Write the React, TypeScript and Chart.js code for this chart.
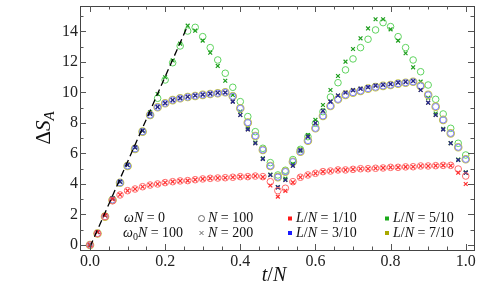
import React, { useEffect, useRef } from "react";
import { Chart, registerables } from "chart.js";
Chart.register(...registerables);

// ---------- data ----------
const tValues = [
  0, 0.02, 0.04, 0.06, 0.08, 0.1, 0.12, 0.14, 0.16, 0.18,
  0.2, 0.22, 0.24, 0.26, 0.28, 0.3, 0.32, 0.34, 0.36, 0.38,
  0.4, 0.42, 0.44, 0.46, 0.48, 0.5, 0.52, 0.54, 0.56, 0.58,
  0.6, 0.62, 0.64, 0.66, 0.68, 0.7, 0.72, 0.74, 0.76, 0.78,
  0.8, 0.82, 0.84, 0.86, 0.88, 0.9, 0.92, 0.94, 0.96, 0.98, 1.0,
];

// L/N = 1/10
const red100 = [
  0, 0.75, 1.86, 2.9, 3.28, 3.56, 3.67, 3.82, 3.93, 4.0,
  4.09, 4.15, 4.2, 4.22, 4.28, 4.33, 4.37, 4.39, 4.41, 4.44,
  4.48, 4.48, 4.52, 4.48, 4.15, 3.56, 3.72, 4.15, 4.44, 4.59,
  4.7, 4.81, 4.85, 4.92, 4.92, 4.96, 5.0, 5.0, 5.03, 5.05,
  5.09, 5.09, 5.12, 5.13, 5.18, 5.18, 5.2, 5.22, 5.22, 4.98, 4.52,
];
const red200 = [
  0, 0.85, 1.95, 3.0, 3.3, 3.56, 3.67, 3.82, 3.93, 4.0,
  4.09, 4.15, 4.2, 4.22, 4.28, 4.33, 4.37, 4.39, 4.41, 4.44,
  4.48, 4.48, 4.52, 4.45, 3.9, 3.17, 3.55, 4.1, 4.44, 4.59,
  4.7, 4.81, 4.85, 4.92, 4.92, 4.96, 5.0, 5.0, 5.03, 5.05,
  5.09, 5.09, 5.12, 5.13, 5.18, 5.18, 5.2, 5.22, 5.2, 4.74, 4.0,
];
// L/N = 3/10
const blue100 = [
  0, 0.75, 1.86, 2.95, 4.08, 5.18, 6.3, 7.43, 8.52, 9.03,
  9.29, 9.5, 9.62, 9.7, 9.77, 9.84, 9.9, 9.95, 10.01, 9.75,
  8.96, 8.02, 7.15, 6.23, 5.18, 4.45, 4.81, 5.46, 6.12, 6.84,
  7.65, 8.46, 9.11, 9.55, 9.84, 9.99, 10.1, 10.25, 10.35, 10.43,
  10.49, 10.58, 10.64, 10.7, 10.43, 9.84, 9.07, 8.2, 7.32, 6.41, 5.62,
];
const blue200 = [
  0, 0.85, 1.95, 3.05, 4.15, 5.25, 6.4, 7.5, 8.6, 9.05,
  9.3, 9.5, 9.63, 9.72, 9.8, 9.86, 9.92, 9.98, 10.0, 9.4,
  8.52, 7.58, 6.67, 5.64, 4.59, 3.78, 4.26, 5.2, 6.2, 7.1,
  8.0, 8.8, 9.4, 9.8, 10.0, 10.15, 10.25, 10.35, 10.45, 10.5,
  10.55, 10.65, 10.7, 10.75, 10.16, 9.33, 8.52, 7.58, 6.67, 5.57, 4.74,
];
// L/N = 5/10
const green100 = [
  0, 0.75, 1.86, 2.95, 4.08, 5.18, 6.3, 7.43, 8.5, 9.62,
  10.82, 11.95, 13.05, 14.03, 14.27, 13.66, 12.94, 12.13, 11.26, 10.34,
  9.4, 8.42, 7.43, 6.34, 5.4, 4.59, 4.9, 5.6, 6.27, 7.1,
  7.98, 8.74, 9.7, 10.64, 11.48, 12.2, 12.94, 13.49, 14.1, 14.58,
  14.32, 13.66, 12.94, 12.13, 11.36, 10.49, 9.55, 8.59, 7.65, 6.67, 5.9,
];
const green200 = [
  0, 0.85, 1.95, 3.05, 4.15, 5.25, 6.4, 7.5, 8.7, 9.9,
  11.0, 12.1, 13.2, 14.38, 14.05, 13.4, 12.61, 11.74, 10.77, 9.84,
  8.75, 7.7, 6.72, 5.68, 4.62, 3.8, 4.35, 5.3, 6.27, 7.21,
  8.2, 9.18, 10.16, 11.08, 12.02, 12.85, 13.55, 14.2, 14.8, 14.8,
  14.14, 13.4, 12.57, 11.65, 10.71, 9.65, 8.62, 7.62, 6.68, 5.6, 4.76,
];
// L/N = 7/10
const olive100 = [
  0, 0.75, 1.86, 2.95, 4.08, 5.18, 6.3, 7.43, 8.52, 9.03,
  9.29, 9.5, 9.62, 9.7, 9.77, 9.84, 9.9, 9.95, 10.01, 9.75,
  8.96, 8.02, 7.15, 6.23, 5.18, 4.45, 4.81, 5.46, 6.12, 6.84,
  7.65, 8.46, 9.11, 9.55, 9.84, 9.99, 10.1, 10.25, 10.35, 10.43,
  10.49, 10.58, 10.64, 10.7, 10.43, 9.84, 9.07, 8.2, 7.32, 6.41, 5.62,
];
const olive200 = [
  0, 0.85, 1.95, 3.05, 4.15, 5.25, 6.4, 7.5, 8.6, 9.05,
  9.3, 9.5, 9.63, 9.72, 9.8, 9.86, 9.92, 9.98, 10.0, 9.4,
  8.52, 7.58, 6.67, 5.64, 4.59, 3.78, 4.26, 5.2, 6.2, 7.1,
  8.0, 8.8, 9.4, 9.8, 10.0, 10.15, 10.25, 10.35, 10.45, 10.5,
  10.55, 10.65, 10.7, 10.75, 10.16, 9.33, 8.52, 7.58, 6.67, 5.57, 4.74,
];

// dashed reference line (linear growth)
const lineT = [0, 0.26];
const lineS = [-0.12, 14.38];

const xTicks = [0, 0.2, 0.4, 0.6, 0.8, 1.0];
const xTickLabels = ["0.0", "0.2", "0.4", "0.6", "0.8", "1.0"];
const yTicks = [0, 2, 4, 6, 8, 10, 12, 14];
const yTickLabels = ["0", "2", "4", "6", "8", "10", "12", "14"];

const X_MIN = -0.0266;
const X_MAX = 1.022;
const Y_MIN = -0.33;
const Y_MAX = 15.67;

const SERIF = '"Liberation Serif", "Times New Roman", serif';

function pts(ys: number[]) {
  return tValues.map((t, i) => ({ x: t, y: ys[i] }));
}

type Seg = [string, "i" | "r" | "sub" | "subi"];

function segFont(st: string, size: number) {
  if (st === "i") return `italic ${size}px ${SERIF}`;
  if (st === "sub") return `${Math.round(size * 0.7)}px ${SERIF}`;
  if (st === "subi") return `italic ${Math.round(size * 0.7)}px ${SERIF}`;
  return `${size}px ${SERIF}`;
}

function measureSegs(ctx: CanvasRenderingContext2D, segs: Seg[], size: number) {
  let w = 0;
  for (const [s, st] of segs) {
    ctx.font = segFont(st, size);
    w += ctx.measureText(s).width;
  }
  return w;
}

function drawSegs(ctx: CanvasRenderingContext2D, x: number, y: number, segs: Seg[], size: number) {
  let cx = x;
  for (const [s, st] of segs) {
    ctx.font = segFont(st, size);
    const dy = st === "sub" || st === "subi" ? size * 0.28 : 0;
    ctx.fillText(s, cx, y + dy);
    cx += ctx.measureText(s).width;
  }
}

const framePlugin = {
  id: "frameTicks",
  afterDraw(chart: any) {
    const ctx: CanvasRenderingContext2D = chart.ctx;
    const { left, right, top, bottom } = chart.chartArea;
    const xs = chart.scales.x;
    const ys = chart.scales.y;
    ctx.save();
    ctx.strokeStyle = "#444";
    ctx.lineWidth = 1;
    ctx.strokeRect(Math.round(left) + 0.5, Math.round(top) + 0.5, Math.round(right - left), Math.round(bottom - top));
    ctx.strokeStyle = "#555";
    // x ticks
    for (let k = 0; k <= 20; k++) {
      const v = k * 0.05;
      const major = k % 4 === 0;
      const len = major ? 6 : 3.5;
      const px = Math.round(xs.getPixelForValue(v)) + 0.5;
      ctx.beginPath();
      ctx.moveTo(px, bottom);
      ctx.lineTo(px, bottom - len);
      ctx.moveTo(px, top);
      ctx.lineTo(px, top + len);
      ctx.stroke();
    }
    for (let k = 0; k <= 15; k++) {
      const major = k % 2 === 0;
      const len = major ? 6 : 3.5;
      const py = Math.round(ys.getPixelForValue(k)) + 0.5;
      ctx.beginPath();
      ctx.moveTo(left, py);
      ctx.lineTo(left + len, py);
      ctx.moveTo(right, py);
      ctx.lineTo(right - len, py);
      ctx.stroke();
    }

    // tick labels
    ctx.fillStyle = "#222";
    ctx.font = `16px ${SERIF}`;
    ctx.textBaseline = "middle";
    ctx.textAlign = "center";
    xTicks.forEach((v, i) => {
      ctx.fillText(xTickLabels[i], xs.getPixelForValue(v), bottom + 12);
    });
    ctx.textAlign = "right";
    yTicks.forEach((v, i) => {
      ctx.fillText(yTickLabels[i], left - 2, ys.getPixelForValue(v));
    });

    ctx.fillStyle = "#111";
    ctx.textBaseline = "middle";
    ctx.textAlign = "left";

    // axis titles
    const xl: Seg[] = [["t", "i"], ["/", "r"], ["N", "i"]];
    const xw = measureSegs(ctx, xl, 20);
    drawSegs(ctx, 274 - xw / 2, 276, xl, 20);

    ctx.save();
    ctx.translate(44, 128);
    ctx.rotate(-Math.PI / 2);
    const yl: Seg[] = [["Δ", "r"], ["S", "i"], ["A", "subi"]];
    const yw = measureSegs(ctx, yl, 21);
    drawSegs(ctx, -yw / 2, 0, yl, 21);
    ctx.restore();

    // legend
    const fs = 14;
    const r1 = 218.5;
    const r2 = 233;
    drawSegs(ctx, 124, r1, [["ω", "i"], ["N", "i"], [" = 0", "r"]], fs);
    drawSegs(ctx, 123, r2, [["ω", "i"], ["0", "sub"], ["N", "i"], [" = 100", "r"]], fs);

    // circle / cross symbols
    ctx.strokeStyle = "#666";
    ctx.lineWidth = 1;
    ctx.beginPath();
    ctx.arc(201.5, r1, 3, 0, Math.PI * 2);
    ctx.stroke();
    ctx.beginPath();
    ctx.moveTo(199.5, r2 - 2);
    ctx.lineTo(203.5, r2 + 2);
    ctx.moveTo(203.5, r2 - 2);
    ctx.lineTo(199.5, r2 + 2);
    ctx.stroke();
    drawSegs(ctx, 208, r1, [["N", "i"], [" = 100", "r"]], fs);
    drawSegs(ctx, 208, r2, [["N", "i"], [" = 200", "r"]], fs);

    const sq = (x: number, y: number, c: string) => {
      ctx.fillStyle = c;
      ctx.fillRect(x - 2, y - 2, 4, 4);
      ctx.fillStyle = "#111";
    };
    const lab = (x: number, y: number, v: string) =>
      drawSegs(ctx, x, y, [["L", "i"], ["/", "r"], ["N", "i"], [" = " + v, "r"]], fs);
    sq(290, r1, "#ff1a1a");
    lab(296, r1, "1/10");
    sq(290, r2, "#1a1aff");
    lab(296, r2, "3/10");
    sq(387, r1, "#1aaa1a");
    lab(393, r1, "5/10");
    sq(387, r2, "#a8a800");
    lab(393, r2, "7/10");
    ctx.restore();
  },
};

function circleSet(label: string, ys: number[], color: string, order: number, radius = 3.3, bw = 1) {
  return {
    label,
    data: pts(ys),
    pointStyle: "circle",
    pointRadius: radius,
    pointBorderWidth: bw,
    pointBorderColor: color,
    pointBackgroundColor: "rgba(0,0,0,0)",
    borderColor: color,
    backgroundColor: "rgba(0,0,0,0)",
    showLine: false,
    order,
  };
}
function crossSet(label: string, ys: number[], color: string, order: number) {
  return {
    label,
    data: pts(ys),
    pointStyle: "crossRot",
    pointRadius: 2.7,
    pointBorderWidth: 1.2,
    pointBorderColor: color,
    borderColor: color,
    backgroundColor: color,
    showLine: false,
    order,
  };
}

export default function App() {
  const ref = useRef<HTMLCanvasElement | null>(null);
  useEffect(() => {
    if (!ref.current) return;
    const chart = new Chart(ref.current, {
      type: "scatter",
      data: {
        datasets: [
          {
            label: "linear",
            data: lineT.map((t, i) => ({ x: t, y: lineS[i] })),
            showLine: true,
            borderColor: "#000",
            borderWidth: 1.3,
            borderDash: [7, 4],
            pointRadius: 0,
            order: -1,
          } as any,
          crossSet("L/N=1/10 N=200", red200, "#ff3030", 0),
          circleSet("L/N=1/10 N=100", red100, "#ff6a6a", 1),
          crossSet("L/N=3/10 N=200", blue200, "#22229a", 2),
          circleSet("L/N=3/10 N=100", blue100, "#8080ff", 3, 3.1, 1),
          crossSet("L/N=7/10 N=200", olive200, "#8a8a10", 4),
          circleSet("L/N=7/10 N=100", olive100, "#c4c44a", 5, 3.7, 1.2),
          crossSet("L/N=5/10 N=200", green200, "#1e9e1e", 6),
          circleSet("L/N=5/10 N=100", green100, "#5ed35e", 7),
        ] as any,
      },
      options: {
        responsive: false,
        animation: false,
        layout: { padding: { top: 6, right: 19, left: 0, bottom: 0 } },
        plugins: { legend: { display: false }, tooltip: { enabled: false } },
        scales: {
          x: {
            type: "linear",
            min: X_MIN,
            max: X_MAX,
            grid: { display: false, drawTicks: false },
            border: { display: false },
            afterBuildTicks: (s: any) => {
              s.ticks = xTicks.map((v) => ({ value: v }));
            },
            afterFit: (s: any) => {
              s.height = 50;
            },
            ticks: { display: false },
          },
          y: {
            type: "linear",
            min: Y_MIN,
            max: Y_MAX,
            grid: { display: false, drawTicks: false },
            border: { display: false },
            afterBuildTicks: (s: any) => {
              s.ticks = yTicks.map((v) => ({ value: v }));
            },
            afterFit: (s: any) => {
              s.width = 80;
            },
            ticks: { display: false },
          },
        },
      } as any,
      plugins: [framePlugin as any],
    });
    return () => chart.destroy();
  }, []);
  return (
    <div style={{ position: "fixed", left: 0, top: 0, width: 493, height: 300, background: "#fff" }}>
      <canvas ref={ref} width={493} height={300} style={{ display: "block", width: 493, height: 300 }} />
    </div>
  );
}
